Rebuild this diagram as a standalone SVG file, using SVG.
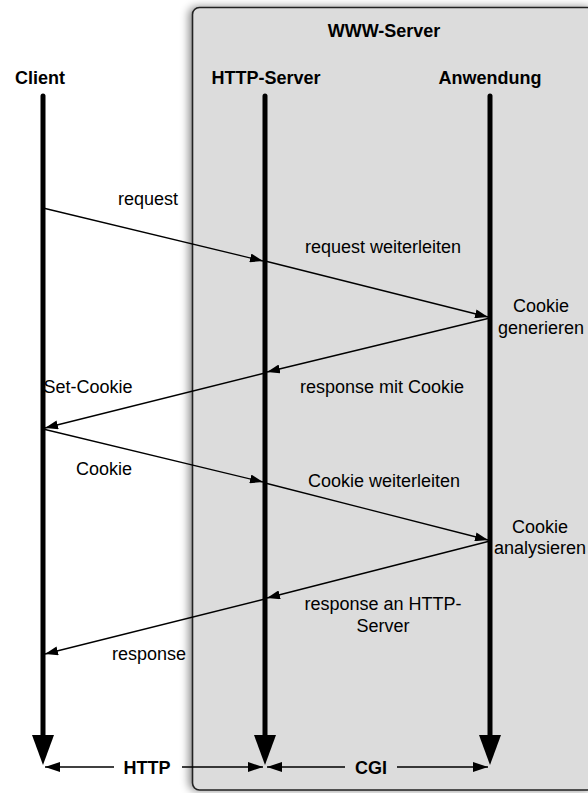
<svg xmlns="http://www.w3.org/2000/svg" width="588" height="793" viewBox="0 0 588 793">
  <defs>
    <filter id="shadow" x="-10%" y="-5%" width="120%" height="110%">
      <feDropShadow dx="-3" dy="0" stdDeviation="4" flood-color="#000" flood-opacity="0.45"/>
    </filter>
    <marker id="msgHead" viewBox="0 0 13 9" refX="13" refY="4.5" markerWidth="13" markerHeight="9" markerUnits="userSpaceOnUse" orient="auto">
      <path d="M0,0 L13,4.5 L0,9 Z" fill="#000"/>
    </marker>
    <marker id="lifeHead" viewBox="0 0 30 22" refX="0" refY="11" markerWidth="30" markerHeight="22" markerUnits="userSpaceOnUse" orient="auto">
      <path d="M0,0 L30,11 L0,22 Z" fill="#000"/>
    </marker>
    <marker id="ifHead" viewBox="0 0 15 10" refX="15" refY="5" markerWidth="15" markerHeight="10" markerUnits="userSpaceOnUse" orient="auto">
      <path d="M0,0 L15,5 L0,10 Z" fill="#000"/>
    </marker>
  </defs>
  <style>
    text { font-family: "Liberation Sans", Arial, Helvetica, sans-serif; fill: #000; }
    .title { font-size: 18px; font-weight: bold; text-anchor: middle; }
    .lbl { font-size: 18px; text-anchor: middle; }
    .life { stroke: #000; stroke-width: 5; stroke-linecap: round; fill: none; marker-end: url(#lifeHead); }
    .msg { stroke: #000; stroke-width: 1.3; fill: none; marker-end: url(#msgHead); }
    .if { stroke: #000; stroke-width: 1.3; fill: none; marker-end: url(#ifHead); }
  </style>

  <!-- server container -->
  <g id="www-server">
    <rect x="192.5" y="7.5" width="402" height="782.5" rx="7" ry="7" fill="#dcdcdc" stroke="#222" stroke-width="1.6" filter="url(#shadow)"/>
    <text class="title" x="384" y="37">WWW-Server</text>
  </g>

  <!-- participants -->
  <g id="client">
    <text class="title" x="40" y="84">Client</text>
    <line class="life" x1="43" y1="96" x2="43" y2="735"/>
  </g>
  <g id="http-server">
    <text class="title" x="266" y="84">HTTP-Server</text>
    <line class="life" x1="265" y1="96" x2="265" y2="735"/>
  </g>
  <g id="anwendung">
    <text class="title" x="490" y="84">Anwendung</text>
    <line class="life" x1="490" y1="96" x2="490" y2="735"/>
  </g>

  <!-- messages -->
  <g id="connectors">
    <line class="msg" x1="43" y1="208" x2="263" y2="261"/>
    <line class="msg" x1="265" y1="261" x2="488" y2="317"/>
    <line class="msg" x1="490" y1="318" x2="267" y2="372"/>
    <line class="msg" x1="265" y1="373" x2="45" y2="428"/>
    <line class="msg" x1="43" y1="429" x2="263" y2="482"/>
    <line class="msg" x1="265" y1="483" x2="488" y2="540"/>
    <line class="msg" x1="490" y1="541" x2="267" y2="598"/>
    <line class="msg" x1="265" y1="599" x2="45" y2="654"/>

    <!-- interface spans -->
    <line class="if" x1="114" y1="767" x2="45" y2="767"/>
    <line class="if" x1="182" y1="767" x2="263" y2="767"/>
    <line class="if" x1="345" y1="767" x2="267" y2="767"/>
    <line class="if" x1="397" y1="767" x2="488" y2="767"/>
  </g>

  <!-- message labels -->
  <g id="labels">
    <text class="lbl" x="148" y="205">request</text>
    <text class="lbl" x="383" y="253">request weiterleiten</text>
    <text class="lbl" x="541" y="312">Cookie</text>
    <text class="lbl" x="541" y="334">generieren</text>
    <text class="lbl" x="382" y="393">response mit Cookie</text>
    <text class="lbl" x="88" y="393">Set-Cookie</text>
    <text class="lbl" x="104" y="475">Cookie</text>
    <text class="lbl" x="384" y="487">Cookie weiterleiten</text>
    <text class="lbl" x="540" y="533">Cookie</text>
    <text class="lbl" x="540" y="554">analysieren</text>
    <text class="lbl" x="383" y="610">response an HTTP-</text>
    <text class="lbl" x="383" y="632">Server</text>
    <text class="lbl" x="149" y="660">response</text>
    <text class="title" x="147" y="774">HTTP</text>
    <text class="title" x="371" y="774">CGI</text>
  </g>
</svg>
